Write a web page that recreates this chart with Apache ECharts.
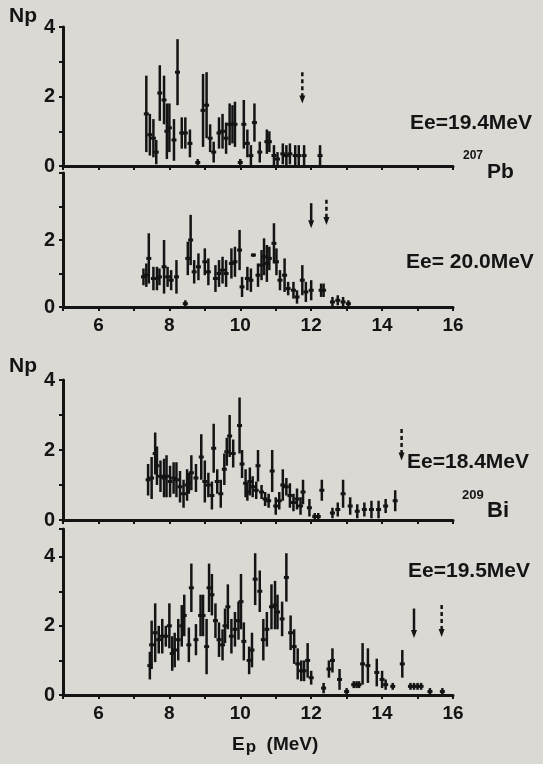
<!DOCTYPE html>
<html><head><meta charset="utf-8">
<script src="https://cdn.jsdelivr.net/npm/echarts@6/dist/echarts.min.js"></script>
<style>html,body{margin:0;padding:0;background:#dbd9d4;}#c{width:543px;height:764px;}</style>
</head><body><div id="c"></div>
<script>
// ---- data: [Ep (MeV), Np, error] ----
const pb194 = [[7.35,1.5,1.1],[7.45,0.9,0.6],[7.55,0.8,0.55],[7.63,0.4,0.35],[7.73,2.1,0.8],[7.85,1.9,0.7],[7.93,1.0,0.8],[8.0,1.1,0.7],[8.13,0.75,0.6],[8.23,2.7,0.95],[8.35,0.95,0.45],[8.45,0.95,0.45],[8.58,0.65,0.4],[8.8,0.1,0.1],[8.95,1.6,1.05],[9.05,1.75,0.95],[9.15,0.8,0.4],[9.25,0.4,0.3],[9.4,0.95,0.45],[9.5,1.0,0.5],[9.6,0.8,0.45],[9.7,1.2,0.6],[9.78,1.2,0.55],[9.85,1.2,0.65],[10.0,0.1,0.1],[10.1,1.2,0.7],[10.2,0.65,0.4],[10.3,0.3,0.3],[10.4,1.25,0.55],[10.55,0.4,0.3],[10.75,0.7,0.35],[10.82,0.7,0.3],[10.95,0.3,0.3],[11.05,0.2,0.2],[11.2,0.35,0.3],[11.3,0.3,0.3],[11.4,0.35,0.3],[11.55,0.3,0.3],[11.65,0.3,0.3],[11.8,0.3,0.3],[12.25,0.3,0.3]];
const pb200 = [[7.27,0.9,0.25],[7.35,0.95,0.35],[7.42,1.45,0.75],[7.55,0.85,0.35],[7.65,0.85,0.35],[7.72,0.9,0.25],[7.85,1.2,0.8],[7.95,0.9,0.3],[8.05,0.8,0.3],[8.2,0.9,0.5],[8.45,0.1,0.1],[8.52,1.45,0.5],[8.6,2.0,0.75],[8.7,1.05,0.35],[8.82,1.2,0.4],[9.0,1.35,0.4],[9.1,1.05,0.4],[9.3,0.85,0.4],[9.4,1.0,0.4],[9.5,1.1,0.4],[9.6,1.0,0.4],[9.75,1.3,0.45],[9.85,1.35,0.45],[9.98,1.7,0.6],[10.05,0.6,0.3],[10.2,0.85,0.35],[10.3,0.8,0.35],[10.37,1.55,0.05],[10.5,0.95,0.35],[10.6,1.25,0.45],[10.67,1.5,0.55],[10.75,1.3,0.55],[10.82,1.45,0.35],[10.95,1.9,0.6],[11.02,1.35,0.4],[11.12,0.8,0.3],[11.25,0.95,0.5],[11.35,0.55,0.2],[11.5,0.5,0.25],[11.6,0.3,0.2],[11.75,0.8,0.45],[11.85,0.45,0.3],[12.0,0.5,0.3],[12.28,0.5,0.2],[12.35,0.5,0.2],[12.6,0.15,0.15],[12.75,0.2,0.15],[12.9,0.15,0.15],[13.05,0.1,0.1]];
const bi184 = [[7.4,1.15,0.45],[7.5,1.2,0.6],[7.6,1.9,0.6],[7.65,1.55,0.55],[7.75,1.25,0.45],[7.85,1.2,0.55],[7.92,1.25,0.6],[8.02,1.1,0.45],[8.12,1.2,0.45],[8.2,1.15,0.5],[8.3,0.95,0.45],[8.4,0.75,0.4],[8.5,1.0,0.45],[8.55,1.05,0.3],[8.62,1.35,0.5],[8.75,1.2,0.4],[8.9,1.8,0.65],[9.0,1.1,0.6],[9.1,1.0,0.35],[9.2,0.7,0.4],[9.25,2.05,0.7],[9.35,1.1,0.35],[9.45,0.75,0.4],[9.55,1.45,0.45],[9.62,1.95,0.4],[9.7,2.4,0.6],[9.8,1.9,0.4],[9.98,2.7,0.8],[10.05,1.6,0.4],[10.15,1.05,0.4],[10.2,0.8,0.25],[10.27,1.1,0.4],[10.35,0.95,0.3],[10.45,0.85,0.25],[10.5,1.55,0.45],[10.6,0.8,0.2],[10.7,0.6,0.2],[10.8,0.55,0.2],[10.9,1.4,0.6],[11.0,0.4,0.25],[11.1,0.55,0.25],[11.2,1.0,0.45],[11.3,0.95,0.25],[11.4,0.7,0.35],[11.5,0.5,0.25],[11.6,0.6,0.3],[11.7,0.4,0.25],[11.77,0.8,0.35],[11.95,0.35,0.25],[12.1,0.1,0.1],[12.2,0.1,0.1],[12.3,0.85,0.3],[12.6,0.2,0.15],[12.75,0.3,0.2],[12.9,0.75,0.4],[13.1,0.4,0.25],[13.3,0.25,0.2],[13.5,0.3,0.2],[13.7,0.3,0.25],[13.9,0.3,0.25],[14.1,0.4,0.2],[14.37,0.55,0.3]];
const bi195 = [[7.45,0.85,0.4],[7.5,1.45,0.7],[7.6,1.8,0.85],[7.7,1.6,0.4],[7.8,1.7,0.5],[7.9,1.7,0.3],[8.0,2.0,0.65],[8.08,1.2,0.5],[8.15,1.3,0.5],[8.25,1.6,0.6],[8.35,2.0,0.6],[8.42,2.3,0.6],[8.55,1.45,0.5],[8.62,3.1,0.7],[8.75,1.6,0.45],[8.88,2.3,0.6],[8.95,2.3,0.6],[9.05,1.4,0.8],[9.12,3.1,0.7],[9.2,2.9,0.6],[9.3,2.15,0.5],[9.4,1.6,0.5],[9.5,1.45,0.45],[9.57,2.0,0.5],[9.65,2.55,0.65],[9.75,1.7,0.5],[9.85,1.9,0.5],[9.95,2.15,0.55],[10.02,2.7,0.8],[10.1,1.55,0.55],[10.25,1.0,0.4],[10.33,1.3,0.5],[10.42,3.35,0.75],[10.55,3.0,0.6],[10.65,1.6,0.6],[10.75,1.9,0.5],[10.88,2.55,0.65],[10.98,2.6,0.7],[11.05,2.4,0.5],[11.18,2.2,0.5],[11.3,3.4,0.7],[11.42,1.8,0.5],[11.52,1.4,0.5],[11.62,0.9,0.45],[11.72,0.7,0.3],[11.8,0.7,0.3],[11.9,1.0,0.5],[12.0,0.5,0.2],[12.35,0.2,0.15],[12.5,0.75,0.25],[12.6,1.0,0.35],[12.8,0.45,0.3],[13.0,0.1,0.1],[13.2,0.3,0.1],[13.28,0.3,0.1],[13.35,0.3,0.1],[13.45,0.9,0.6],[13.6,0.85,0.5],[13.85,0.65,0.4],[14.0,0.45,0.25],[14.1,0.3,0.15],[14.3,0.25,0.1],[14.57,0.9,0.4],[14.8,0.25,0.1],[14.9,0.25,0.1],[15.0,0.25,0.1],[15.1,0.25,0.1],[15.35,0.1,0.1],[15.7,0.1,0.1]];
// arrows: [Ep, top, bottom, dashed]
const arrowsPb194 = [[11.75,2.7,1.8,1]];
const arrowsPb200 = [[12.0,3.1,2.35,0],[12.43,3.2,2.45,1]];
const arrowsBi184 = [[14.55,2.6,1.7,1]];
const arrowsBi195 = [[14.9,2.5,1.65,0],[15.68,2.6,1.68,1]];
const xTickLabels = [6,8,10,12,14,16];
const yLabels = [[0,2,4],[0,2],[0,2,4],[0,2,4]];
const energies = ['Ee=19.4MeV','Ee= 20.0MeV','Ee=18.4MeV','Ee=19.5MeV'];

const INK = '#141414';
const FONT = 'Liberation Sans';
const grids = [
  {left:63, top:27, width:390, height:139},
  {left:63, top:173, width:390, height:134},
  {left:63, top:380, width:390, height:140},
  {left:63, top:529, width:390, height:166}
];
const yMax = [4,4,4,4.8];
const xLabelOn = [false,true,false,true];

function renderErr(params, api){
  const e = api.value(0), v = api.value(1), er = api.value(2);
  const lo = api.coord([e, Math.max(0, v-er)]);
  const hi = api.coord([e, v+er]);
  const c = api.coord([e, v]);
  return {type:'group', children:[
    {type:'line', shape:{x1:lo[0],y1:lo[1],x2:hi[0],y2:hi[1]}, style:{stroke:INK, lineWidth:2.5}},
    {type:'line', shape:{x1:c[0]-2.5,y1:c[1],x2:c[0]+2.5,y2:c[1]}, style:{stroke:INK, lineWidth:3}}
  ]};
}
function renderArrow(params, api){
  const e = api.value(0), top = api.value(1), bot = api.value(2), dashed = api.value(3);
  const t = api.coord([e, top]), b = api.coord([e, bot]);
  return {type:'group', children:[
    {type:'line', shape:{x1:t[0],y1:t[1],x2:b[0],y2:b[1]-5}, style:{stroke:INK, lineWidth:2.5, lineDash: dashed ? [4,3] : null}},
    {type:'polygon', shape:{points:[[b[0]-3,b[1]-8],[b[0]+3,b[1]-8],[b[0],b[1]]]}, style:{fill:INK}}
  ]};
}
const datasets = [pb194, pb200, bi184, bi195];
const arrows = [arrowsPb194, arrowsPb200, arrowsBi184, arrowsBi195];

const option = {
  backgroundColor:'#dbd9d4',
  animation:false,
  grid: grids,
  xAxis: grids.map((g,i)=>({
    type:'value', gridIndex:i, min:5, max:16, interval:1,
    axisLine:{show:true, lineStyle:{color:INK, width:3}},
    axisTick:{show:true, length:4, lineStyle:{color:INK, width:2}},
    splitLine:{show:false},
    axisLabel:{show:xLabelOn[i], margin:9, color:INK, fontFamily:FONT, fontWeight:'bold', fontSize:19,
      formatter:v=> xTickLabels.includes(v) ? String(v) : ''}
  })),
  yAxis: grids.map((g,i)=>({
    type:'value', gridIndex:i, min:0, max:yMax[i], interval:1,
    axisLine:{show:true, lineStyle:{color:INK, width:3}},
    axisTick:{show:true, length:4, lineStyle:{color:INK, width:2}},
    splitLine:{show:false},
    axisLabel:{show:true, margin:8, color:INK, fontFamily:FONT, fontWeight:'bold', fontSize:20,
      formatter:v=> yLabels[i].includes(v) ? String(v) : ''}
  })),
  series: [].concat(
    datasets.map((d,i)=>({type:'custom', xAxisIndex:i, yAxisIndex:i, data:d, encode:{x:0,y:1}, renderItem:renderErr, clip:false})),
    arrows.map((d,i)=>({type:'custom', xAxisIndex:i, yAxisIndex:i, data:d, encode:{x:0,y:[1,2]}, renderItem:renderArrow, clip:false}))
  ),
  graphic: [
    {type:'text', left:9, top:6, style:{text:'Np', font:'bold 21px '+FONT, fill:INK}},
    {type:'text', left:9, top:356, style:{text:'Np', font:'bold 21px '+FONT, fill:INK}},
    {type:'text', left:410, top:113, style:{text:energies[0], font:'bold 21px '+FONT, fill:INK}},
    {type:'text', left:406, top:252, style:{text:energies[1], font:'bold 21px '+FONT, fill:INK}},
    {type:'text', left:407, top:452, style:{text:energies[2], font:'bold 21px '+FONT, fill:INK}},
    {type:'text', left:408, top:561, style:{text:energies[3], font:'bold 21px '+FONT, fill:INK}},
    {type:'text', left:463, top:150, style:{text:'207', font:'bold 12px '+FONT, fill:INK}},
    {type:'text', left:487, top:162, style:{text:'Pb', font:'bold 21px '+FONT, fill:INK}},
    {type:'text', left:462, top:489, style:{text:'209', font:'bold 13px '+FONT, fill:INK}},
    {type:'text', left:487, top:500, style:{text:'Bi', font:'bold 22px '+FONT, fill:INK}},
    {type:'text', left:232, top:735, style:{text:'{e|E}{p|p}{u|  (MeV)}', rich:{
      e:{font:'bold 19px '+FONT, fill:INK},
      p:{font:'bold 17px '+FONT, fill:INK, padding:[6,0,0,1]},
      u:{font:'bold 19px '+FONT, fill:INK}
    }}}
  ]
};
const chart = echarts.init(document.getElementById('c'));
chart.setOption(option);
</script>
</body></html>
